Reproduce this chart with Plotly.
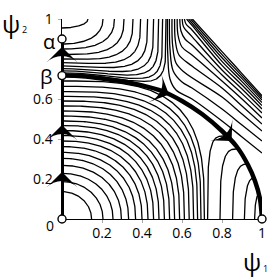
import numpy as np
import plotly.graph_objects as go

# ---------------- data ----------------
# thick separatrix from beta to (1,0)
SEP_X = [0.0, 0.1, 0.2, 0.3, 0.4, 0.5, 0.6, 0.7, 0.8, 0.875, 0.93, 0.965, 0.99, 1.0]
SEP_Y = [0.717, 0.714, 0.703, 0.688, 0.668, 0.64, 0.59, 0.525, 0.44, 0.36, 0.27, 0.19, 0.1, 0.0]

# fixed points (open circles)
FP_X = [0.0, 0.0, 0.0, 1.0]
FP_Y = [0.0, 0.717, 0.90, 0.0]
ALPHA_Y = 0.90
BETA_Y = 0.717

# family A: arcs from psi2 axis (A_Y0) to psi1 axis (A_X0), shape exponent A_P
A_Y0 = [0.137, 0.187, 0.228, 0.268, 0.303, 0.333, 0.362, 0.39, 0.417, 0.442,
        0.467, 0.49, 0.515, 0.54, 0.565, 0.59, 0.613, 0.637, 0.663, 0.69]
A_X0 = [0.148, 0.205, 0.255, 0.297, 0.333, 0.368, 0.40, 0.43, 0.458, 0.485,
        0.512, 0.538, 0.563, 0.588, 0.612, 0.636, 0.658, 0.678, 0.695, 0.712]
A_P = [2.0, 2.05, 2.1, 2.15, 2.2, 2.25, 2.3, 2.35, 2.4, 2.45,
       2.5, 2.55, 2.6, 2.7, 2.8, 2.9, 3.0, 3.1, 3.2, 3.3]

# family B: from psi2 axis above beta (B_Y0) up to the top edge (B_XTOP)
B_Y0 = [0.955, 0.875, 0.85, 0.823, 0.8, 0.782, 0.766, 0.752, 0.741, 0.731, 0.724]
B_XTOP = [0.13, 0.205, 0.262, 0.31, 0.355, 0.393, 0.428, 0.458, 0.483, 0.503, 0.52]
B_P = [2.0, 2.2, 2.4, 2.7, 3.0, 3.4, 3.8, 4.3, 4.8, 5.4, 6.0]

C_X = [
    [0.527, 0.529, 0.54, 0.57, 0.65, 0.8, 0.9, 1.0],
    [0.537, 0.54, 0.556, 0.6, 0.65, 0.8, 0.9, 1.0],
    [0.55, 0.553, 0.57, 0.61, 0.8, 0.9, 1.0],
    [0.563, 0.567, 0.585, 0.65, 0.8, 0.9, 1.0],
    [0.576, 0.58, 0.6, 0.65, 0.8, 0.9, 1.0],
    [0.589, 0.595, 0.615, 0.65, 0.8, 0.9, 1.0],
    [0.601, 0.608, 0.65, 0.8, 0.9, 1.0],
    [0.612, 0.62, 0.65, 0.8, 0.9, 1.0],
    [0.623, 0.65, 0.8, 0.9, 1.0],
    [0.633, 0.8, 0.9, 1.0],
    [0.643, 0.8, 0.9, 1.0],
    [0.652, 0.8, 0.9, 1.0],
]
C_Y = [
    [1.0, 0.82, 0.70, 0.645, 0.60, 0.49, 0.41, 0.33],
    [1.0, 0.85, 0.74, 0.685, 0.655, 0.55, 0.47, 0.39],
    [1.0, 0.87, 0.78, 0.735, 0.61, 0.525, 0.44],
    [1.0, 0.89, 0.82, 0.765, 0.655, 0.565, 0.475],
    [1.0, 0.92, 0.86, 0.82, 0.69, 0.60, 0.505],
    [1.0, 0.94, 0.90, 0.87, 0.72, 0.627, 0.53],
    [1.0, 0.96, 0.912, 0.745, 0.65, 0.55],
    [1.0, 0.975, 0.945, 0.768, 0.67, 0.567],
    [1.0, 0.968, 0.788, 0.687, 0.582],
    [1.0, 0.806, 0.702, 0.595],
    [1.0, 0.822, 0.715, 0.606],
    [1.0, 0.837, 0.727, 0.616],
]

# family D: from psi1 axis (D_X0) up into the separatrix at (D_XE, D_H)
D_X0 = [0.728, 0.79, 0.853, 0.912, 0.963]
D_XE = [0.82, 0.875, 0.925, 0.96, 0.985]
D_H = [0.415, 0.35, 0.275, 0.205, 0.125]
D_P = [4.0, 3.2, 2.8, 2.4, 2.0]

# arrowheads
ARR_X = [0.0, 0.0, 0.0, 0.535, 0.848]
ARR_Y = [0.235, 0.47, 0.86, 0.623, 0.39]
ARR_ANG = [0, 0, 0, 114, 137]

X_TICKS = [0.2, 0.4, 0.6, 0.8]
X_TICKTEXT = ["0.2", "0.4", "0.6", "0.8"]
Y_TICKS = [0.2, 0.4, 0.6, 1.0]
Y_TICKTEXT = ["0.2", "0.4", "0.6", "1"]

# ---------------- geometry helpers ----------------
T = np.linspace(0.0, np.pi / 2, 160)


def se(p):
    return np.cos(T) ** (2.0 / p), np.sin(T) ** (2.0 / p)


def sep(x):
    return np.interp(x, SEP_X, SEP_Y)


thin_x, thin_y = [], []

for a, b, p in zip(A_X0, A_Y0, A_P):
    cx, sy = se(p)
    thin_x += list(a * cx) + [None]
    thin_y += list(b * sy) + [None]

for y0, c, p in zip(B_Y0, B_XTOP, B_P):
    cx, sy = se(p)
    x = c * cx
    y0w = (y0 - BETA_Y) / (1 - BETA_Y)
    yw = 1 - (1 - y0w) * sy
    s = sep(x)
    y = s + yw * (1 - s)
    thin_x += list(x) + [None]
    thin_y += list(y) + [None]

for x0, xe, h, p in zip(D_X0, D_XE, D_H, D_P):
    cx, sy = se(p)
    thin_x += list(xe - (xe - x0) * cx) + [None]
    thin_y += list(h * sy) + [None]

c_x, c_y = [], []
for xs, ys in zip(C_X, C_Y):
    c_x += xs + [None]
    c_y += ys + [None]

fig = go.Figure()
fig.add_trace(go.Scatter(x=thin_x, y=thin_y, mode="lines",
                         line=dict(color="black", width=1.3), hoverinfo="skip"))
fig.add_trace(go.Scatter(x=c_x, y=c_y, mode="lines",
                         line=dict(color="black", width=1.3, shape="spline", smoothing=1.0),
                         hoverinfo="skip"))
fig.add_trace(go.Scatter(x=SEP_X, y=SEP_Y, mode="lines",
                         line=dict(color="black", width=4.5, shape="spline", smoothing=0.8),
                         hoverinfo="skip"))
fig.add_trace(go.Scatter(x=[0, 0], y=[0, ALPHA_Y], mode="lines",
                         line=dict(color="black", width=4), hoverinfo="skip", cliponaxis=False))
fig.add_trace(go.Scatter(x=ARR_X, y=ARR_Y, mode="markers",
                         marker=dict(symbol="arrow-wide", size=22, angle=ARR_ANG, color="black",
                                     line=dict(width=0)),
                         hoverinfo="skip", cliponaxis=False))
fig.add_trace(go.Scatter(x=FP_X, y=FP_Y, mode="markers",
                         marker=dict(symbol="circle", size=8, color="white",
                                     line=dict(color="black", width=1.4)),
                         hoverinfo="skip", cliponaxis=False))

font_ticks = dict(family="Open Sans", size=14, color="black")
fig.update_xaxes(range=[0, 1], showgrid=False, zeroline=False, showline=True,
                 linecolor="black", linewidth=1.4, ticks="outside", ticklen=3,
                 tickcolor="#aaaaaa", tickwidth=1, tickvals=X_TICKS, ticktext=X_TICKTEXT,
                 tickfont=font_ticks, ticklabelstandoff=-2, layer="below traces",
                 fixedrange=True)
fig.update_yaxes(range=[0, 1], showgrid=False, zeroline=False, showline=True,
                 linecolor="black", linewidth=1.4, ticks="outside", ticklen=3,
                 tickcolor="#aaaaaa", tickwidth=1, tickvals=Y_TICKS, ticktext=Y_TICKTEXT,
                 tickfont=font_ticks, ticklabelstandoff=2, layer="below traces",
                 fixedrange=True)

ann = [
    dict(x=1.0, y=-0.065, text="1", font=dict(family="Open Sans", size=14)),
    dict(x=-0.06, y=-0.035, text="0", font=dict(family="Open Sans", size=14)),
    dict(x=-0.065, y=0.89, text="α", font=dict(family="Open Sans", size=20)),
    dict(x=-0.08, y=0.715, text="β", font=dict(family="Open Sans", size=20)),
    dict(x=-0.255, y=0.98, text="ψ", font=dict(family="Open Sans", size=24)),
    dict(x=-0.19, y=0.95, text="2", font=dict(family="Open Sans", size=9)),
    dict(x=0.9475, y=-0.2125, text="ψ", font=dict(family="Open Sans", size=24)),
    dict(x=1.015, y=-0.245, text="1", font=dict(family="Open Sans", size=9)),
]
for a in ann:
    a.update(xref="paper", yref="paper", showarrow=False, xanchor="center", yanchor="middle")
    a["font"]["color"] = "black"
fig.update_layout(annotations=ann, width=268, height=278,
                  margin=dict(l=62, r=6, t=19, b=59),
                  paper_bgcolor="white", plot_bgcolor="white", showlegend=False,
                  hovermode=False)
fig.write_html("out.html", config={"displayModeBar": False, "staticPlot": True},
               post_script="document.body.style.margin='0';")
